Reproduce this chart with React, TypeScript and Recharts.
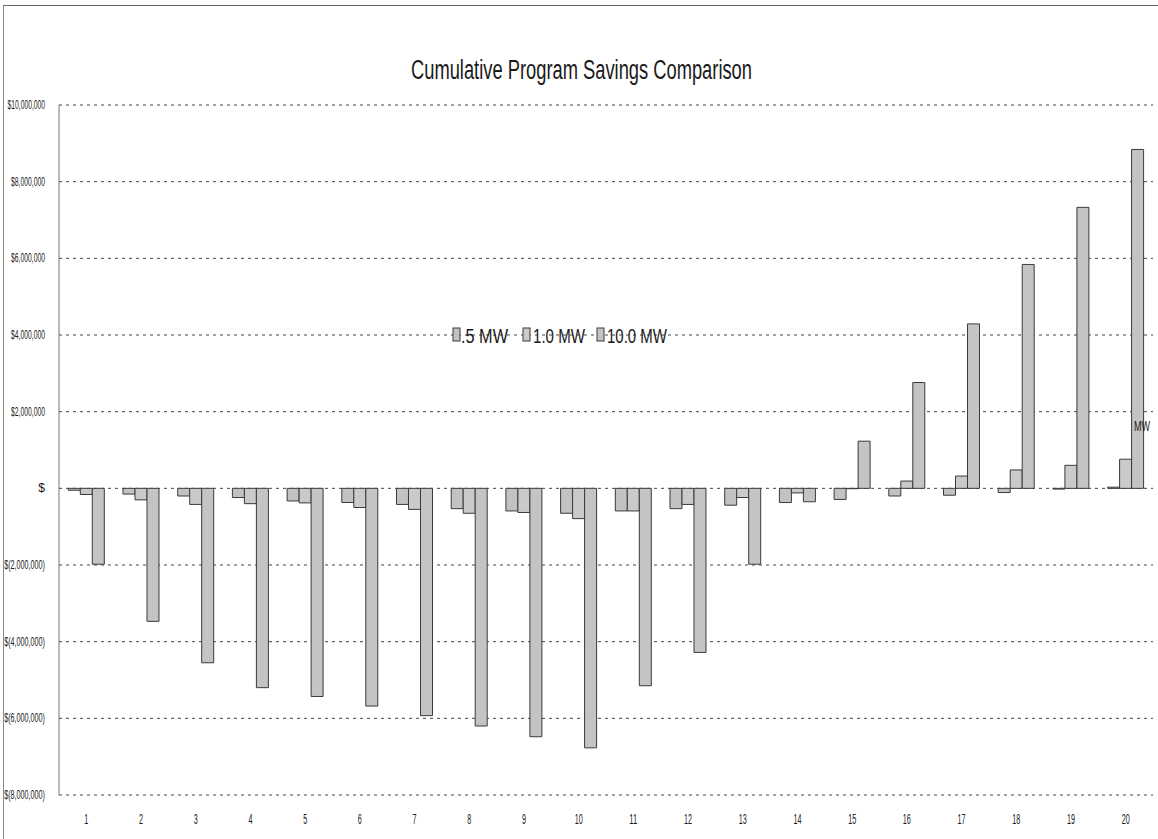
import { Bar, BarChart, CartesianGrid, Legend, XAxis, YAxis } from 'recharts';

// values in millions of dollars
const years = ['1', '2', '3', '4', '5', '6', '7', '8', '9', '10', '11', '12', '13', '14', '15', '16', '17', '18', '19', '20'];
const mw05 = [-0.05, -0.15, -0.2, -0.24, -0.33, -0.37, -0.42, -0.53, -0.59, -0.65, -0.59, -0.53, -0.44, -0.37, -0.29, -0.2, -0.18, -0.11, -0.02, 0.03];
const mw10 = [-0.16, -0.3, -0.42, -0.4, -0.38, -0.5, -0.55, -0.65, -0.63, -0.79, -0.59, -0.42, -0.24, -0.12, -0.01, 0.19, 0.32, 0.48, 0.6, 0.76];
const mw100 = [-1.98, -3.47, -4.55, -5.2, -5.43, -5.68, -5.93, -6.2, -6.48, -6.77, -5.15, -4.28, -1.98, -0.35, 1.23, 2.76, 4.29, 5.84, 7.33, 8.84];
const yTicks = [-8000000, -6000000, -4000000, -2000000, 0, 2000000, 4000000, 6000000, 8000000, 10000000];
const seriesNames = ['.5 MW', '1.0 MW', '10.0 MW'];

const data = years.map((y, i) => ({
  year: y,
  a: mw05[i] * 1e6,
  b: mw10[i] * 1e6,
  c: mw100[i] * 1e6,
}));

const FONT = '"Liberation Sans", Arial, sans-serif';
const INK = '#1a1a1a';
const BAR_STROKE = '#3a3a3a';
const FILLS = ['#c2c2c2', '#cacaca', '#c4c4c4'];

function money(v: number): string {
  if (v === 0) return '$';
  const s = Math.abs(v).toLocaleString('en-US');
  return v < 0 ? `$(${s})` : `$${s}`;
}

function YTick({ x, y, payload }: any) {
  const label = money(payload.value);
  return (
    <text
      x={x - 6}
      y={y + 4}
      textAnchor="end"
      fontSize={12}
      fontFamily={FONT}
      fill={INK}
      textLength={label.length > 1 ? label.length * 3.4 : undefined}
      lengthAdjust="spacingAndGlyphs"
    >
      {label}
    </text>
  );
}

function XTick({ x, y, payload }: any) {
  const label = String(payload.value);
  return (
    <text
      x={x}
      y={y + 21}
      textAnchor="middle"
      fontSize={15}
      fontFamily={FONT}
      fill={INK}
      textLength={label.length * 4}
      lengthAdjust="spacingAndGlyphs"
    >
      {label}
    </text>
  );
}

function LegendBox() {
  const items = [
    { icon: 0, textX: 8, w: 47 },
    { icon: 70, textX: 80, w: 52 },
    { icon: 144, textX: 154, w: 60 },
  ];
  return (
    <svg width={240} height={32} style={{ display: 'block', overflow: 'visible' }}>
      {items.map((it, i) => (
        <g key={seriesNames[i]}>
          <rect x={it.icon + 1} y={8} width={7} height={13} fill={FILLS[i]} stroke={BAR_STROKE} strokeWidth={1} />
          <text
            x={it.textX + 1}
            y={23}
            fontSize={20}
            fontFamily={FONT}
            fill={INK}
            textLength={it.w}
            lengthAdjust="spacingAndGlyphs"
          >
            {seriesNames[i]}
          </text>
        </g>
      ))}
    </svg>
  );
}

export default function App() {
  return (
    <div style={{ position: 'absolute', left: 0, top: 0, width: 1158, height: 839, background: '#fff' }}>
      <div
        style={{
          position: 'absolute',
          left: 3,
          top: 5,
          width: 1155,
          height: 834,
          borderTop: '1px solid #666',
          borderLeft: '1px solid #888',
        }}
      />
      <BarChart
        width={1158}
        height={839}
        data={data}
        margin={{ top: 105, right: 5, bottom: 0, left: 0 }}
        barCategoryGap="17%"
        barGap={0}
      >
        <CartesianGrid vertical={false} stroke="#444" strokeDasharray="3 4" />
        <XAxis dataKey="year" height={44} axisLine={false} tickLine={false} tick={<XTick />} interval={0} />
        <YAxis
          width={59}
          domain={[-8000000, 10000000]}
          ticks={yTicks}
          interval={0}
          tick={<YTick />}
          tickLine={false}
          axisLine={{ stroke: '#777' }}
        />
        <Legend
          verticalAlign="middle"
          align="center"
          content={<LegendBox />}
          wrapperStyle={{ position: 'absolute', left: 452, top: 320, width: 240, height: 32 }}
        />
        <Bar dataKey="a" name={seriesNames[0]} fill={FILLS[0]} stroke={BAR_STROKE} strokeWidth={1} isAnimationActive={false} />
        <Bar dataKey="b" name={seriesNames[1]} fill={FILLS[1]} stroke={BAR_STROKE} strokeWidth={1} isAnimationActive={false} />
        <Bar dataKey="c" name={seriesNames[2]} fill={FILLS[2]} stroke={BAR_STROKE} strokeWidth={1} isAnimationActive={false} />
      </BarChart>
      <svg width={1158} height={839} style={{ position: 'absolute', left: 0, top: 0, pointerEvents: 'none' }}>
        <text
          x={411}
          y={79}
          fontSize={27}
          fontFamily={FONT}
          fill={INK}
          textLength={341}
          lengthAdjust="spacingAndGlyphs"
        >
          Cumulative Program Savings Comparison
        </text>
        <text x={1134} y={431} fontSize={14} fontFamily={FONT} fill={INK} textLength={16} lengthAdjust="spacingAndGlyphs">
          MW
        </text>
      </svg>
    </div>
  );
}
